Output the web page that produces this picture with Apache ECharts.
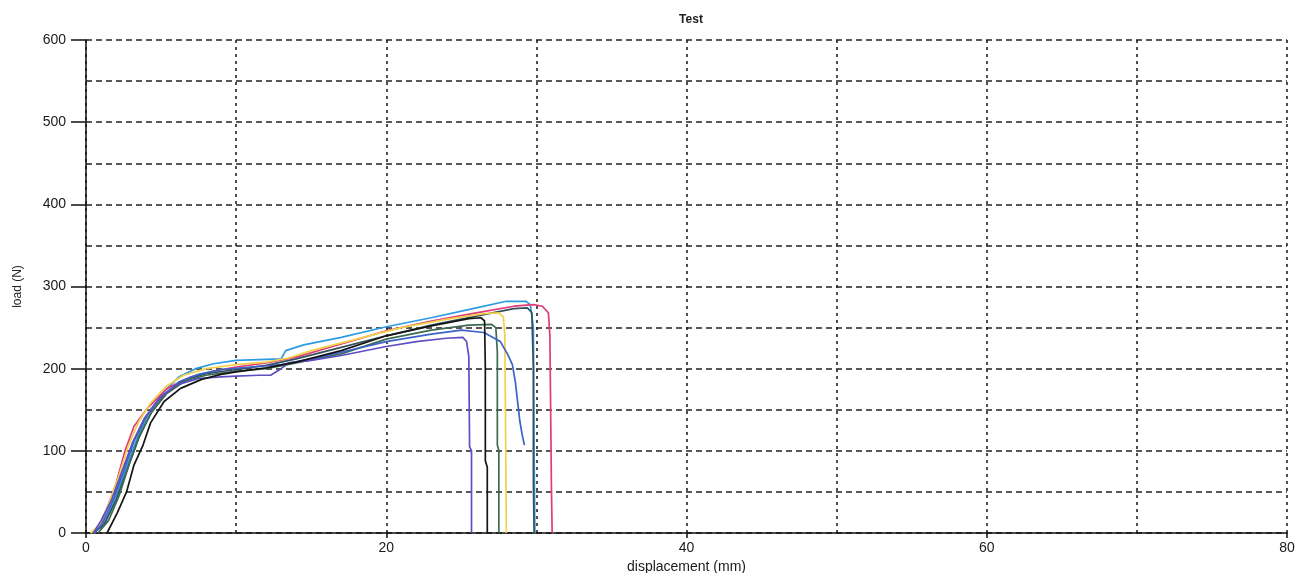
<!DOCTYPE html>
<html>
<head>
  <meta charset="utf-8" />
  <style type="text/css">
    body, html { width: 100%; height: 100%; margin: 0; background: #fff; }
    #chart { width: 1310px; height: 573px; }
  </style>
  <script src="https://cdn.jsdelivr.net/npm/echarts@6/dist/echarts.min.js"></script>
  <title>Test</title>
</head>
<body>
  <div id="chart"></div>
<script type="text/javascript">
  // curves, [displacement mm, load N]
  var cyan = [[0.3,0],[0.8,5],[1.3,15],[2,45],[2.8,85],[3.5,120],[4.3,150],[5.2,172],[6.2,190],[7.3,200],[8.5,206],[10,210],[11.5,211],[13,212],[13.3,222],[14.5,229],[17,238],[20,251],[23,262],[26,274],[28,282],[29.3,282],[29.6,278],[29.8,250],[29.85,100],[29.9,0]]
  var magenta = [[0.4,0],[1,12],[1.5,35],[2,60],[2.6,100],[3.2,130],[4.1,152],[5.4,176],[7,190],[8.5,197],[10,202],[12,207],[14,214],[17,230],[20,246],[23,258],[26,268],[28.5,276],[29.8,278],[30.4,276],[30.8,268],[30.9,240],[30.95,150],[31.0,60],[31.05,0]]
  var slate = [[0.5,0],[1.2,10],[2,40],[2.8,80],[3.5,115],[4.3,145],[5.3,170],[6.5,186],[8,194],[10,199],[12,204],[14,212],[17,226],[20,240],[23,253],[26,264],[28.5,273],[29.4,274],[29.7,268],[29.8,200],[29.8,60],[29.85,0]]
  var yellow = [[0.3,0],[0.9,10],[1.5,35],[2.2,70],[2.8,105],[3.5,135],[4.3,158],[5.3,178],[6.5,192],[8,200],[10,205],[12,208],[13.5,213],[15,222],[18,236],[21,250],[24,260],[26.5,267],[27.5,268],[27.8,263],[27.9,240],[27.95,120],[28.0,0]]
  var black = [[1.4,0],[2.1,25],[2.7,50],[3.2,83],[3.8,107],[4.3,134],[5.2,160],[6.3,176],[7.7,187],[9,193],[10,196],[12,201],[14,208],[17,222],[20,240],[23,252],[25.5,261],[26.3,262],[26.55,258],[26.6,200],[26.6,88],[26.73,80],[26.73,0]]
  var green = [[0.8,0],[1.5,15],[2.2,45],[2.9,85],[3.6,120],[4.4,148],[5.4,170],[6.6,185],[8,192],[10,197],[12,200],[14,207],[17,218],[20,236],[23,247],[25.5,253],[27,254],[27.3,250],[27.4,220],[27.4,107],[27.5,100],[27.5,0]]
  var blue = [[0.6,0],[1.1,12],[1.8,40],[2.5,75],[3.2,112],[4,142],[5,166],[6.2,184],[7.5,193],[9,199],[11,202],[13,205],[15,212],[17,220],[20,233],[23,242],[25,247],[26.5,244],[27.6,233],[28.1,217],[28.4,205],[28.6,184],[28.75,160],[28.9,136],[29.05,120],[29.2,107]]
  var purple = [[0.5,0],[1,15],[1.7,40],[2.4,75],[3.1,110],[3.9,140],[4.9,164],[6,180],[7.5,188],[9,190],[10,191],[11.5,192],[12.3,192],[13,200],[13.5,207],[15,210],[17,216],[20,227],[22,233],[24,237],[25.1,238],[25.35,233],[25.5,215],[25.55,105],[25.68,100],[25.68,0]]

  var curves = [
    { name: 'cyan', data: cyan, color: '#2d9be0' },
    { name: 'magenta', data: magenta, color: '#e23a78' },
    { name: 'slate', data: slate, color: '#34505e' },
    { name: 'yellow', data: yellow, color: '#f2d24a' },
    { name: 'green', data: green, color: '#3f6b50' },
    { name: 'blue', data: blue, color: '#3c62c8' },
    { name: 'purple', data: purple, color: '#5b4fc2' },
    { name: 'black', data: black, color: '#151515' }
  ]

  var myChart = echarts.init(document.getElementById('chart'))

  var labelStyle = { color: '#1a1a1a', fontSize: 14, fontFamily: 'Liberation Sans, Arial, sans-serif' }

  var option = {
    animation: false,
    title: {
      text: 'Test',
      left: 686,
      top: 9,
      textAlign: 'center',
      textStyle: { fontSize: 12, fontWeight: 'bold', color: '#222', fontFamily: 'Liberation Sans, Arial, sans-serif' }
    },
    grid: { left: 86, right: 23, top: 40, bottom: 40, outerBoundsMode: 'none', containLabel: false },
    xAxis: {
      type: 'value',
      min: 0,
      max: 80,
      interval: 20,
      name: 'displacement (mm)',
      nameLocation: 'middle',
      nameGap: 26,
      nameTextStyle: labelStyle,
      axisLine: { onZero: false, lineStyle: { color: '#111', width: 1.5 } },
      axisTick: { show: true, length: 5, lineStyle: { color: '#111', width: 1.5 } },
      axisLabel: Object.assign({ margin: 8 }, labelStyle),
      splitLine: { show: true, lineStyle: { color: '#222', width: 1.6, type: [3, 4] } },
      minorTick: { show: false, splitNumber: 2 },
      minorSplitLine: { show: true, lineStyle: { color: '#222', width: 1.6, type: [3, 4] } }
    },
    yAxis: {
      type: 'value',
      min: 0,
      max: 600,
      interval: 100,
      name: 'load (N)',
      nameLocation: 'middle',
      nameGap: 62,
      nameTextStyle: { color: '#222', fontSize: 12, fontFamily: 'Liberation Sans, Arial, sans-serif' },
      axisLine: { show: true, lineStyle: { color: '#111', width: 1.5 } },
      axisTick: { show: true, inside: false, length: 15, lineStyle: { color: '#111', width: 1.5 } },
      axisLabel: Object.assign({ margin: 20 }, labelStyle),
      splitLine: { show: true, lineStyle: { color: '#222', width: 1.5, type: [6, 4] } },
      minorTick: { show: false, splitNumber: 2 },
      minorSplitLine: { show: true, lineStyle: { color: '#222', width: 1.5, type: [6, 4] } }
    },
    series: curves.map(function (c) {
      return {
        name: c.name,
        type: 'line',
        data: c.data,
        showSymbol: false,
        smooth: false,
        lineStyle: { color: c.color, width: 1.7 },
        itemStyle: { color: c.color }
      }
    })
  }

  myChart.setOption(option)
</script>
</body>
</html>
